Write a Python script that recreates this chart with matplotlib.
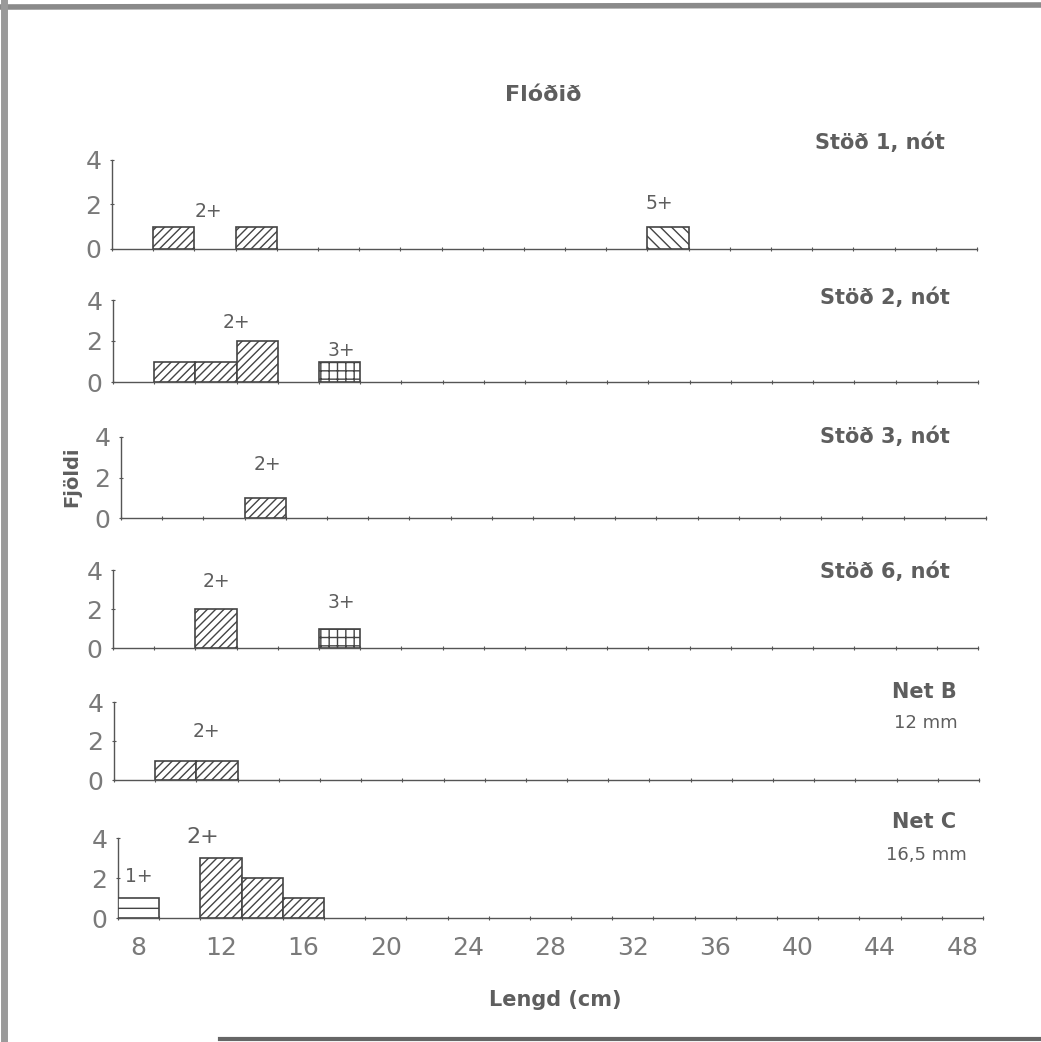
import matplotlib
matplotlib.use("Agg")
import matplotlib.pyplot as plt
from matplotlib.lines import Line2D
import numpy as np

W, H = 1041, 1042

# ---- data ----
panel_labels = ["Stöð 1, nót", "Stöð 2, nót", "Stöð 3, nót", "Stöð 6, nót", "Net B", "Net C"]
panel_sublabels = ["", "", "", "", "12 mm", "16,5 mm"]

# bars: (left edge of 2 cm length class, count, age group)
p1_left = [9, 13, 33]
p1_count = [1, 1, 1]
p1_age = ["2+", "2+", "5+"]

p2_left = [9, 11, 13, 17]
p2_count = [1, 1, 2, 1]
p2_age = ["2+", "2+", "2+", "3+"]

p3_left = [13]
p3_count = [1]
p3_age = ["2+"]

p4_left = [11, 17]
p4_count = [2, 1]
p4_age = ["2+", "3+"]

p5_left = [9, 11]
p5_count = [1, 1]
p5_age = ["2+", "2+"]

p6_left = [7, 11, 13, 15]
p6_count = [1, 3, 2, 1]
p6_age = ["1+", "2+", "2+", "2+"]

# age-group annotations (x, y, text) per panel
p1_ann_x = [11.7, 33.6]; p1_ann_y = [1.7, 2.05]; p1_ann_t = ["2+", "5+"]
p2_ann_x = [13.0, 18.1]; p2_ann_y = [2.9, 1.55]; p2_ann_t = ["2+", "3+"]
p3_ann_x = [14.1]; p3_ann_y = [2.65]; p3_ann_t = ["2+"]
p4_ann_x = [12.0, 18.1]; p4_ann_y = [3.4, 2.35]; p4_ann_t = ["2+", "3+"]
p5_ann_x = [11.5]; p5_ann_y = [2.5]; p5_ann_t = ["2+"]
p6_ann_x = [8.0, 11.1]; p6_ann_y = [2.05, 4.05]; p6_ann_t = ["1+", "2+"]

xtick_labels = [8, 12, 16, 20, 24, 28, 32, 36, 40, 44, 48]
yticks = [0, 2, 4]
bin_width = 2

lefts = [p1_left, p2_left, p3_left, p4_left, p5_left, p6_left]
counts = [p1_count, p2_count, p3_count, p4_count, p5_count, p6_count]
ages = [p1_age, p2_age, p3_age, p4_age, p5_age, p6_age]
ann_x = [p1_ann_x, p2_ann_x, p3_ann_x, p4_ann_x, p5_ann_x, p6_ann_x]
ann_y = [p1_ann_y, p2_ann_y, p3_ann_y, p4_ann_y, p5_ann_y, p6_ann_y]
ann_t = [p1_ann_t, p2_ann_t, p3_ann_t, p4_ann_t, p5_ann_t, p6_ann_t]

hatches = {"1+": "-", "2+": "////", "3+": "++", "5+": "\\\\\\"}

# ---- layout (pixels) ----
ax_left_px = [112, 113, 121, 113, 114, 118]
ax_bottom_px = [249, 382, 518, 648, 780, 918]
ax_top_px = [160, 300, 437, 570, 702, 838]
ax_width_px = 865

label_x_px = [880, 885, 885, 885, 924, 924]
label_y_px = [143, 298, 437, 572, 692, 822]
sublabel_y_px = [None, None, None, None, 723, 855]

plt.rcParams["font.family"] = ["DejaVu Sans"]
plt.rcParams["hatch.linewidth"] = 1.0
plt.rcParams["hatch.color"] = "#444444"

txt = "#5e5e5e"
line_c = "#555555"

fig = plt.figure(figsize=(W / 100, H / 100), dpi=100)
fig.patch.set_facecolor("white")

for i in range(6):
    l = ax_left_px[i] / W
    b = 1 - ax_bottom_px[i] / H
    h = (ax_bottom_px[i] - ax_top_px[i]) / H
    ax = fig.add_axes([l, b, ax_width_px / W, h])
    ax.set_xlim(7, 49)
    ax.set_ylim(0, 4)
    for lft, c, a in zip(lefts[i], counts[i], ages[i]):
        ax.bar(lft, c, width=bin_width, align="edge", facecolor="white",
               edgecolor="#444444", linewidth=1.2, hatch=hatches[a], zorder=3)
    for x, y, t in zip(ann_x[i], ann_y[i], ann_t[i]):
        fs = 16 if (i == 5 and t == "2+") else 13.5
        ax.text(x, y, t, ha="center", va="center", fontsize=fs, color=txt)
    for s in ["top", "right"]:
        ax.spines[s].set_visible(False)
    for s in ["left", "bottom"]:
        ax.spines[s].set_color(line_c)
        ax.spines[s].set_linewidth(1.0)
    ax.set_yticks(yticks)
    ax.set_yticklabels([str(v) for v in yticks])
    ax.tick_params(axis="y", length=3, direction="inout", width=0.8, color=line_c,
                   labelsize=18, labelcolor="#7a7a7a", pad=6)
    ax.set_xticks(np.arange(7, 50, 2), minor=True)
    ax.tick_params(axis="x", which="minor", length=3, direction="inout", width=0.8, color=line_c)
    ax.set_xticks(xtick_labels)
    if i == 5:
        ax.set_xticklabels([str(v) for v in xtick_labels])
        ax.tick_params(axis="x", which="major", length=0, labelsize=18,
                       labelcolor="#7a7a7a", pad=13)
    else:
        ax.tick_params(axis="x", which="major", length=0, labelbottom=False)
    ax.patch.set_alpha(0)

    fig.text(label_x_px[i] / W, 1 - label_y_px[i] / H, panel_labels[i], ha="center",
             va="center", fontsize=15, fontweight="bold", color=txt)
    if sublabel_y_px[i] is not None:
        fig.text(926 / W, 1 - sublabel_y_px[i] / H, panel_sublabels[i], ha="center",
                 va="center", fontsize=13, color=txt)

fig.text(543 / W, 1 - 95 / H, "Flóðið", ha="center", va="center", fontsize=16,
         fontweight="bold", color=txt)
fig.text(555 / W, 1 - 1000 / H, "Lengd (cm)", ha="center", va="center", fontsize=15,
         fontweight="bold", color=txt)
fig.text(72 / W, 1 - 477 / H, "Fjöldi", ha="center", va="center", rotation=90,
         fontsize=14, fontweight="bold", color=txt)

# scanned page frame
fig.add_artist(Line2D([0, 1], [1 - 7 / H, 1 - 5 / H], color="#8a8a8a", lw=4,
                      transform=fig.transFigure))
fig.add_artist(Line2D([4 / W, 4 / W], [0, 1], color="#9a9a9a", lw=5,
                      transform=fig.transFigure))
fig.add_artist(Line2D([220 / W, 1], [1 - 1039 / H, 1 - 1039 / H], color="#666666", lw=3,
                      transform=fig.transFigure))

fig.savefig("out.png", dpi=100, facecolor="white")
